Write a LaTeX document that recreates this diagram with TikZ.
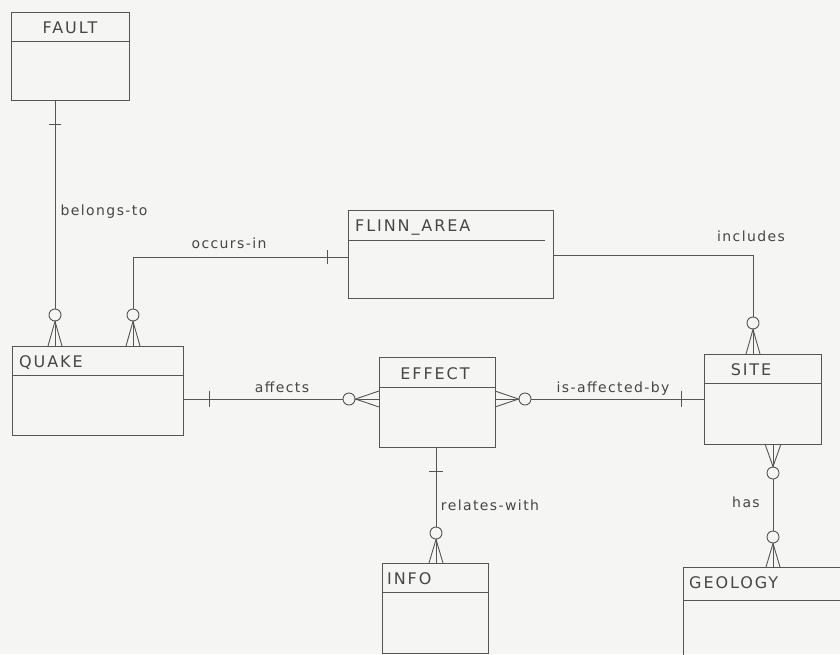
\documentclass[tikz,border=0pt]{standalone}
\usepackage{fontspec}
\newfontfamily\titlefont[LetterSpace=12]{DejaVu Sans}
\newfontfamily\labelfont[LetterSpace=10]{DejaVu Sans}
\definecolor{bg}{RGB}{245,245,243}
\definecolor{linec}{RGB}{85,85,85}
\definecolor{textc}{RGB}{70,70,70}
\begin{document}
\begin{tikzpicture}[x=1pt,y=-1pt,
  ent/.style={draw=linec, line width=0.9pt, rectangle, inner sep=0pt},
  title/.style={font=\titlefont\fontsize{16}{16}\selectfont, text=textc, inner sep=0pt, anchor=base west},
  lab/.style={font=\labelfont\fontsize{14}{14}\selectfont, text=textc, inner sep=0pt, anchor=base},
  circ/.style={draw=linec, circle, minimum size=12pt, inner sep=0pt, fill=bg, line width=0.9pt},
  conn/.style={draw=linec, line width=0.9pt}]
\clip (0,0) rectangle (840,654);
\fill[bg] (0,0) rectangle (840,654);

% entities
\node[ent, minimum width=118pt, minimum height=88pt] (fault) at (70,56) {};
\node[ent, minimum width=171pt, minimum height=89pt] (quake) at (97.5,390.5) {};
\node[ent, minimum width=205pt, minimum height=88pt] (flinn) at (450.5,254) {};
\node[ent, minimum width=116pt, minimum height=90pt] (effect) at (437,402) {};
\node[ent, minimum width=117pt, minimum height=90pt] (site) at (762.5,399) {};
\node[ent, minimum width=106pt, minimum height=90pt] (info) at (435,608) {};
\node[ent, minimum width=177pt, minimum height=103pt] (geology) at (771.5,618.5) {};

% header separators
\draw[conn] ([yshift=-30pt]fault.north west) -- ([yshift=-30pt]fault.north east);
\draw[conn] ([yshift=-30pt]quake.north west) -- ([yshift=-30pt]quake.north east);
\draw[conn] ([yshift=-31pt]flinn.north west) -- ([yshift=-31pt,xshift=-8pt]flinn.north east);
\draw[conn] ([yshift=-31pt]effect.north west) -- ([yshift=-31pt]effect.north east);
\draw[conn] ([yshift=-30pt]site.north west) -- ([yshift=-30pt]site.north east);
\draw[conn] ([yshift=-30pt]info.north west) -- ([yshift=-30pt]info.north east);
\draw[conn] ([yshift=-34pt]geology.north west) -- ([yshift=-34pt]geology.north east);

% titles
\node[title, anchor=base] (tfault) at (70,33) {FAULT};
\node[title] (tquake) at (19,367) {QUAKE};
\node[title] (tflinn) at (355,231) {FLINN\_AREA};
\node[title, anchor=base] (teffect) at (435,379) {EFFECT};
\node[title, anchor=base] (tsite) at (751,375) {SITE};
\node[title] (tinfo) at (387,584) {INFO};
\node[title] (tgeology) at (689,588) {GEOLOGY};

% belongs-to : FAULT -- QUAKE
\node[circ] (c1) at (55,315) {};
\draw[conn] (fault.south -| c1) -- (c1.north);
\draw[conn] (49,124) -- (61,124);
\draw[conn] (48,346) -- (c1.south) -- (62,346);
\draw[conn] (c1.south) -- (c1.south |- quake.north);
\node[lab] (lbelongs) at (104,215) {belongs-to};

% occurs-in : FLINN_AREA -- QUAKE
\node[circ] (c2) at (133,315) {};
\draw[conn] (flinn.west |- 0,257) -| (c2.north);
\draw[conn] (327,250) -- (327,264);
\draw[conn] (126,346) -- (c2.south) -- (140,346);
\draw[conn] (c2.south) -- (c2.south |- quake.north);
\node[lab] (loccurs) at (229,248) {occurs-in};

% includes : FLINN_AREA -- SITE
\node[circ] (c3) at (753,323) {};
\draw[conn] (flinn.east |- 0,255) -| (c3.north);
\draw[conn] (746,354) -- (c3.south) -- (760,354);
\draw[conn] (c3.south) -- (c3.south |- site.north);
\node[lab] (lincludes) at (751,241.5) {includes};

% affects : QUAKE -- EFFECT
\node[circ] (c4) at (349,399) {};
\draw[conn] (quake.east |- c4) -- (c4.west);
\draw[conn] (209,391) -- (209,407);
\draw[conn] (379,391) -- (c4.east) -- (379,407);
\draw[conn] (c4.east) -- (effect.west |- c4);
\node[lab] (laffects) at (282,392) {affects};

% is-affected-by : SITE -- EFFECT
\node[circ] (c5) at (525,399) {};
\draw[conn] (c5.east) -- (site.west |- c5);
\draw[conn] (681,391) -- (681,407);
\draw[conn] (495,391) -- (c5.west) -- (495,407);
\draw[conn] (c5.west) -- (effect.east |- c5);
\node[lab] (laffby) at (613,392) {is-affected-by};

% relates-with : EFFECT -- INFO
\node[circ] (c6) at (436,533) {};
\draw[conn] (effect.south -| c6) -- (c6.north);
\draw[conn] (429,471) -- (443,471);
\draw[conn] (429,563) -- (c6.south) -- (443,563);
\draw[conn] (c6.south) -- (info.north -| c6);
\node[lab] (lrelates) at (490,510) {relates-with};

% has : SITE -- GEOLOGY
\node[circ] (c7) at (773,473) {};
\node[circ] (c8) at (773,537) {};
\draw[conn] (765,444) -- (c7.north) -- (781,444);
\draw[conn] (c7.north) -- (site.south -| c7);
\draw[conn] (c7.south) -- (c8.north);
\draw[conn] (766,567) -- (c8.south) -- (780,567);
\draw[conn] (c8.south) -- (geology.north -| c8);
\node[lab] (lhas) at (746,507) {has};
\end{tikzpicture}
\end{document}
